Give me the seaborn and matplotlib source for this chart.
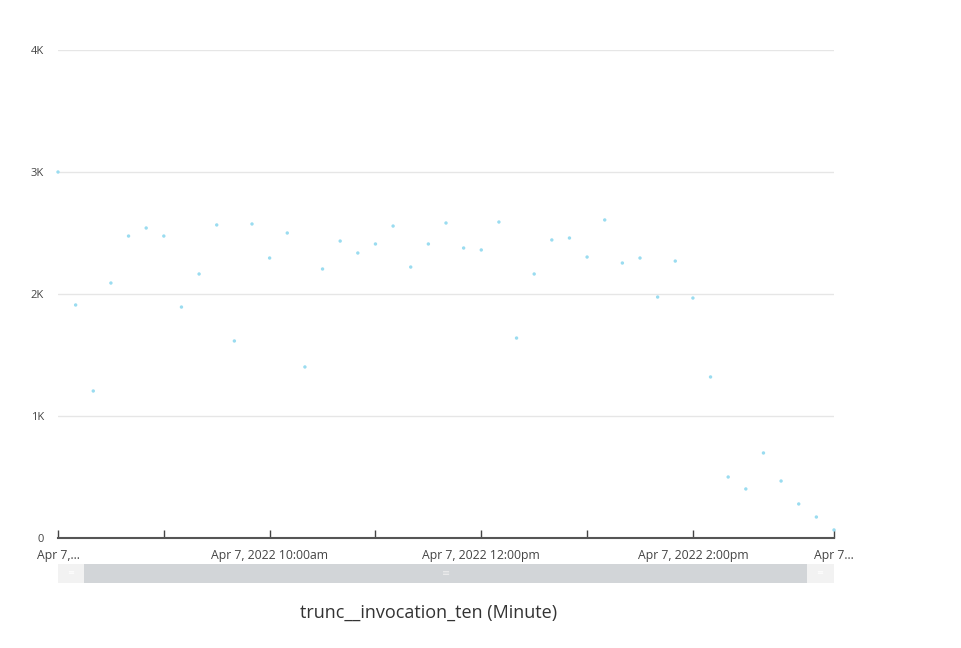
import pandas as pd
import numpy as np
import matplotlib
matplotlib.use('Agg')
import matplotlib.pyplot as plt
from matplotlib.patches import Rectangle
import seaborn as sns

# invocation counts per 10 minute bucket, Apr 7 2022 08:00 -> 15:20
start_time = '2022-04-07 08:00'
counts = [3000, 1910, 1205, 2090, 2475, 2541, 2475, 1893, 2164, 2566,
          1615, 2574, 2295, 2500, 1402, 2205, 2434, 2336, 2410, 2557,
          2221, 2410, 2582, 2377, 2361, 2590, 1639, 2164, 2443, 2459,
          2303, 2607, 2254, 2295, 1975, 2270, 1967, 1320, 500, 402,
          697, 467, 279, 172, 66]
y_ticks = [0, 1000, 2000, 3000, 4000]
y_labels = ['0', '1K', '2K', '3K', '4K']
x_label = 'trunc__invocation_ten (Minute)'

df = pd.DataFrame({
    'minute': pd.date_range(start_time, periods=len(counts), freq='10min'),
    'count': counts,
})

sns.set_style('white')
plt.rcParams['font.family'] = ['Open Sans', 'DejaVu Sans']

W, H = 962, 648
fig = plt.figure(figsize=(W / 100, H / 100), dpi=100)
ax = fig.add_axes([58 / W, (H - 538) / H, (834 - 58) / W, (538 - 50) / H])

sns.scatterplot(data=df, x='minute', y='count', ax=ax, s=6, color='#9adcf0',
                edgecolor='none', zorder=3, clip_on=False)

x0, x1 = df['minute'].iloc[0], df['minute'].iloc[-1]
ax.set_xlim(x0, x1)
ax.set_ylim(0, 4000)

# y axis
ax.set_yticks(y_ticks)
ax.set_yticklabels(y_labels)
ax.tick_params(axis='y', left=False, length=0, pad=10, labelsize=8,
               labelcolor='#444444')
ax.grid(axis='y', color='#e6e6e6', linewidth=1)
ax.grid(axis='x', visible=False)
ax.set_axisbelow(True)

# x axis: hourly ticks, labels every 2 hours plus truncated ends
hours = pd.date_range('2022-04-07 08:00', '2022-04-07 14:00', freq='1h')
tick_pos = list(hours) + [x1]
tick_lab = []
for t in hours:
    if t.hour == 8:
        tick_lab.append('Apr 7,...')
    elif t.hour % 2 == 0:
        tick_lab.append(t.strftime('Apr %-d, %Y %-I:%M') + t.strftime('%p').lower())
    else:
        tick_lab.append('')
tick_lab.append('Apr 7...')
ax.set_xticks(tick_pos)
ax.set_xticklabels(tick_lab)
ax.tick_params(axis='x', bottom=True, direction='in', length=6, width=1.0,
               color='#444444', pad=8, labelsize=8.8, labelcolor='#444444')

for s in ['top', 'right', 'left']:
    ax.spines[s].set_visible(False)
ax.spines['bottom'].set_color('#555555')
ax.spines['bottom'].set_linewidth(1.5)
ax.set_xlabel('')
ax.set_ylabel('')

# range slider below the axis
sb = fig.add_axes([58 / W, (H - 583) / H, (834 - 58) / W, 19 / H])
sb.set_xlim(58, 834)
sb.set_ylim(0, 1)
sb.add_patch(Rectangle((58, 0), 776, 1, color='#f2f2f2', linewidth=0))
sb.add_patch(Rectangle((84, 0), 723, 1, color='#d2d5d8', linewidth=0))
sb.text(446, 0.5, '≡', ha='center', va='center', fontsize=7, color='#eeeeee')
sb.text(71, 0.5, '≡', ha='center', va='center', fontsize=6, color='#ffffff')
sb.text(820, 0.5, '≡', ha='center', va='center', fontsize=6, color='#ffffff')
sb.axis('off')

fig.text(429 / W, (H - 613) / H, x_label, ha='center', va='center',
         fontsize=13, color='#333333')

fig.savefig('out.png', dpi=100)
